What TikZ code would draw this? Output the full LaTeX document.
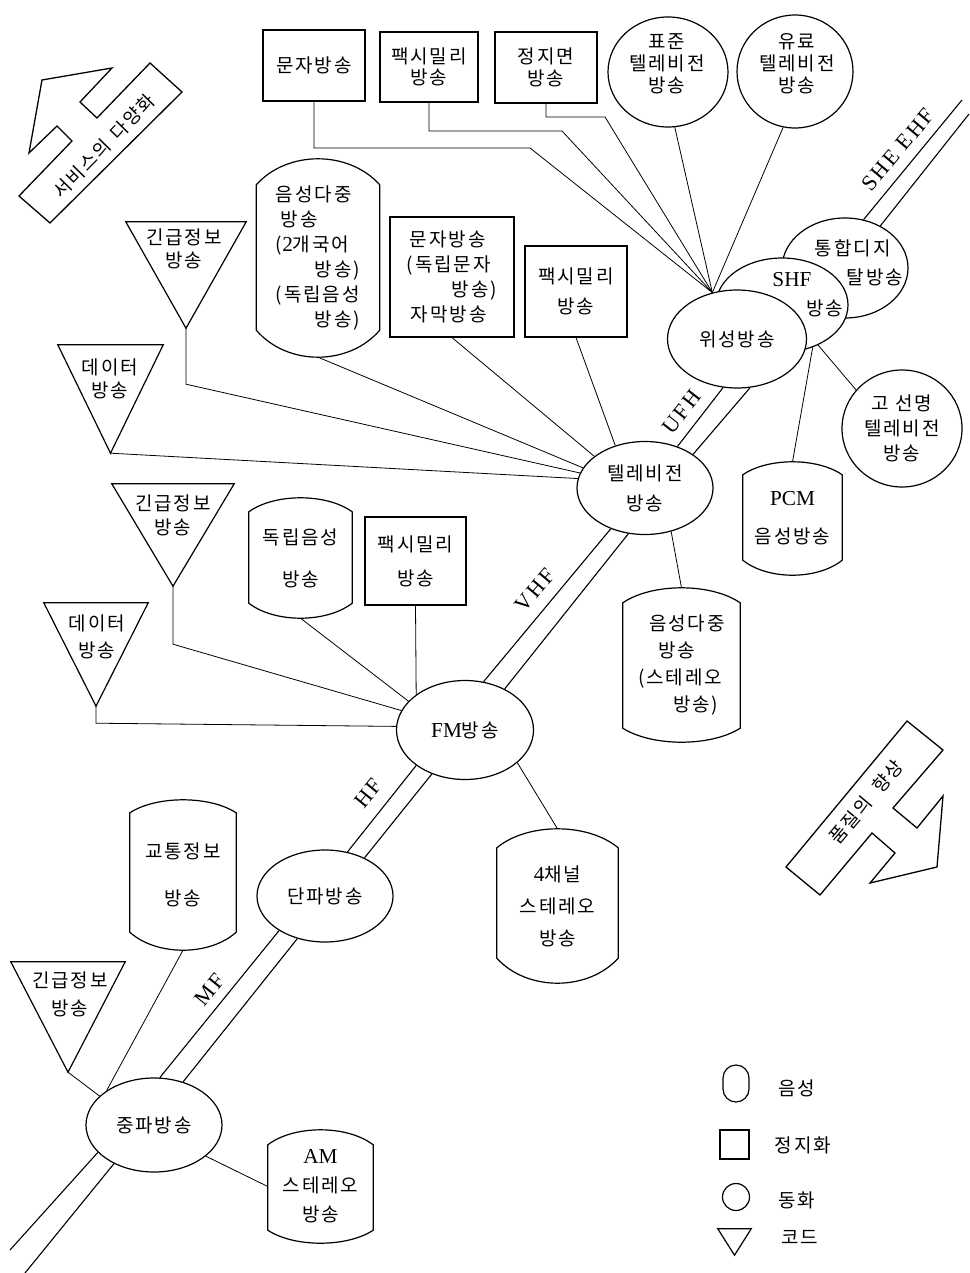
\documentclass[tikz,border=0pt]{standalone}
\usepackage{fontspec}
\setmainfont{Noto Sans CJK KR}[LetterSpace=10]
\newfontfamily\latfont{Liberation Serif}[Scale=1.12]
\newfontfamily\bandfont{Liberation Serif}[LetterSpace=10]
\newcommand\Lat[1]{{\latfont #1}}
\usetikzlibrary{shapes.geometric,calc}

\tikzset{
  shapeline/.style={draw, line width=1.2pt},
  link/.style={line width=0.8pt},
  trunk/.style={line width=1.1pt},
  ell/.style={ellipse, shapeline, fill=white, inner sep=0pt, align=center},
  box/.style={rectangle, shapeline, inner sep=0pt, align=center},
  slot/.style={rectangle, inner sep=0pt, align=center},
  txt/.style={align=center, inner sep=0pt},
  lsk/.style={font=\fontsize{19}{#1}\selectfont},
  band/.style={font=\bandfont\fontsize{22}{22}\selectfont, inner sep=0pt},
  arrowtxt/.style={font=\fontsize{18.5}{20}\selectfont, inner sep=0pt},
}

% barrel outline (voice service) drawn round a named frame node
\newcommand\barrelshape[3]{%
  \draw[line width=1.2pt] ($(#1.north west)+(0,#2)$)
    .. controls ($(#1.north west)!0.25!(#1.north east)+(0,-#2/3)$) and ($(#1.north west)!0.75!(#1.north east)+(0,-#2/3)$) .. ($(#1.north east)+(0,#2)$)
    -- ($(#1.south east)+(0,-#3)$)
    .. controls ($(#1.south west)!0.75!(#1.south east)+(0,#3/3)$) and ($(#1.south west)!0.25!(#1.south east)+(0,#3/3)$) .. ($(#1.south west)+(0,-#3)$)
    -- cycle;}
% inverted triangle (code service) drawn in a named frame node
\newcommand\trishape[1]{%
  \draw[line width=1.2pt] (#1.north west) -- (#1.north east) -- (#1.south) -- cycle;}

\begin{document}
\begin{tikzpicture}[x=1pt,y=-1pt,lsk=22]
\fill[white] (0,0) rectangle (969,1273);
\useasboundingbox (0,0) rectangle (969,1273);

% ---------------- satellite cluster ----------------
\node[ell, minimum width=126, minimum height=100] (dig) at (845,268) {};
\node[ell, minimum width=132, minimum height=94] (shf) at (782,305) {};
\node[ell, minimum width=139, minimum height=98] (sat) at (737,339) {위성방송};
\node[txt, align=left, lsk=29] (digtxt) at (859,262.5) {통합디지\\\hspace*{32pt}탈방송};
\node[txt] (shfa) at (792,280) {\Lat{SHF}};
\node[txt] (shfb) at (825,308) {방송};

% top row of still-picture boxes and moving-picture circles
\node[box, minimum width=102, minimum height=71] (txttop) at (314,65.5) {문자방송};
\node[box, minimum width=98, minimum height=70, lsk=21] (faxtop) at (429,67) {팩시밀리\\방송};
\node[box, minimum width=102, minimum height=71, lsk=22] (still) at (546,67.5) {정지면\\방송};
\node[ell, minimum width=120, minimum height=110] (stdtv) at (668,72) {};
\node[txt, lsk=22] (stdtvtxt) at (667,64) {표준\\텔레비전\\방송};
\node[ell, minimum width=116, minimum height=113] (paytv) at (795,71.5) {};
\node[txt, lsk=22] (paytvtxt) at (797,64) {유료\\텔레비전\\방송};
\node[ell, minimum width=120, minimum height=117, lsk=25] (hdtv) at (902,428.5) {고 선명\\텔레비전\\방송};
\node[slot, minimum width=99, minimum height=113, lsk=38] (pcm) at (792.5,518.5) {\Lat{PCM}\\음성방송};
\barrelshape{pcm}{13}{15}

% ---------------- television cluster ----------------
\node[ell, minimum width=136, minimum height=93, lsk=30] (tv) at (645,488) {텔레비전\\방송};
\node[slot, minimum width=123, minimum height=198, lsk=25, align=left] (mplx) at (318,258)
  {음성다중\\\hspace*{5pt}방송\\(\Lat{2}개국어\\\hspace*{39pt}방송)\\(독립음성\\\hspace*{39pt}방송)};
\barrelshape{mplx}{26}{27}
\node[box, minimum width=124, minimum height=120, lsk=25, align=left] (txtind) at (452,277)
  {\hspace*{3pt}문자방송\\(독립문자\\\hspace*{45pt}방송)\\\hspace*{4pt}자막방송};
\node[box, minimum width=102, minimum height=91, lsk=30] (faxtv) at (576,291.5) {팩시밀리\\방송};
\node[slot, minimum width=120, minimum height=106] (emtv) at (186,275) {};
\trishape{emtv}
\node[txt, lsk=23] (emtvtxt) at (184,248.5) {긴급정보\\방송};
\node[slot, minimum width=105, minimum height=108] (datv) at (110.5,399) {};
\trishape{datv}
\node[txt, lsk=23] (datvtxt) at (110,378.5) {데이터\\방송};
\node[slot, minimum width=117, minimum height=154, lsk=27, align=left] (stv) at (681.5,665)
  {\hspace*{11pt}음성다중\\\hspace*{20pt}방송\\(스테레오\\\hspace*{35pt}방송)};
\barrelshape{stv}{15}{14}

% ---------------- FM cluster ----------------
\node[ell, minimum width=137, minimum height=99] (fm) at (465,730) {\Lat{FM}방송};
\node[slot, minimum width=103, minimum height=120, lsk=42] (indfm) at (300.5,558) {독립음성\\방송};
\barrelshape{indfm}{14}{15}
\node[box, minimum width=101, minimum height=88, lsk=34] (faxfm) at (415.5,561) {팩시밀리\\방송};
\node[slot, minimum width=122, minimum height=102] (emfm) at (173,535) {};
\trishape{emfm}
\node[txt, lsk=24] (emfmtxt) at (173,515) {긴급정보\\방송};
\node[slot, minimum width=104, minimum height=103] (dafm) at (96,654.5) {};
\trishape{dafm}
\node[txt, lsk=27] (dafmtxt) at (97,636.5) {데이터\\방송};
\node[slot, minimum width=121, minimum height=154, lsk=32] (quad) at (557.5,906) {\Lat{4}채널\\스테레오\\방송};
\barrelshape{quad}{19}{25}

% ---------------- short and medium wave ----------------
\node[ell, minimum width=136, minimum height=92] (sw) at (325,896) {단파방송};
\node[ell, minimum width=136, minimum height=94] (mw) at (154,1125) {중파방송};
\node[slot, minimum width=106, minimum height=150, lsk=47] (traffic) at (183,875) {교통정보\\방송};
\barrelshape{traffic}{13}{18}
\node[slot, minimum width=114, minimum height=110] (emmw) at (68,1017) {};
\trishape{emmw}
\node[txt, lsk=28] (emmwtxt) at (70,994) {긴급정보\\방송};
\node[slot, minimum width=105, minimum height=113, lsk=29] (amst) at (320.5,1186.5) {\Lat{AM}\\스테레오\\방송};
\barrelshape{amst}{15}{13}

% ---------------- connectors ----------------
\coordinate (k1) at (530,148);
\coordinate (k2) at (562,131);
\coordinate (k3) at (605,117);
\draw[link] (txttop.south) |- (k1) -- (sat.118);
\draw[link] (faxtop.south) |- (k2) -- (sat.118);
\draw[link] (still.south) |- (k3) -- (sat.118);
\draw[link] (stdtv.-83) -- (sat.118);
\draw[link] (paytv.-102) -- (sat.118);
\draw[link] (shf.-54) -- (pcm.north);
\draw[link] (shf.-48) -- (hdtv.140);

\draw[link] (faxtv.south) -- (tv.125);
\draw[link] (txtind.south) -- (tv.148);
\draw[link] (mplx.south) -- (tv.162);
\draw[link] (emtv.south) -- ++(0,56) -- (tv.167);
\draw[link] (datv.south) -- (tv.172);
\draw[link] (tv.-59) -- (stv.north);

\draw[link] (faxfm.south) -- (fm.144);
\draw[link] (indfm.south) -- (fm.153);
\draw[link] (emfm.south) -- ++(0,58) -- (fm.163);
\draw[link] (dafm.south) -- ++(0,17) -- (fm.177);
\draw[link] (fm.-32) -- (quad.north);

\draw[link] (traffic.south) -- (mw.144);
\draw[link] (emmw.south) -- (mw.152);
\draw[link] (mw.-31) -- (amst.west);

% ---------------- frequency trunk ----------------
\coordinate (e1) at (10,1250);
\coordinate (e2) at (25,1273);
\coordinate (e3) at (962,100);
\coordinate (e4) at (969,114);
\draw[trunk] (e1) -- (mw.206);   \draw[trunk] (e2) -- (mw.224);
\draw[trunk] (mw.83) -- (sw.217); \draw[trunk] (mw.56) -- (sw.237);
\draw[trunk] (sw.63) -- (fm.216); \draw[trunk] (sw.44) -- (fm.233);
\draw[trunk] (fm.69) -- (tv.230); \draw[trunk] (fm.46) -- (tv.250);
\draw[trunk] (tv.52) -- (sat.254); \draw[trunk] (tv.35) -- (sat.285);
\draw[trunk] (dig.69) -- (e3);   \draw[trunk] (dig.50) -- (e4);

\node[band, rotate=51] (lmf) at (210,990) {MF};
\node[band, rotate=51] (lhf) at (368,793) {HF};
\node[band, rotate=50] (lvhf) at (535,590) {VHF};
\node[band, rotate=52] (lufh) at (682,412) {UFH};
\node[band, rotate=50] (lshe) at (898,150) {SHE EHF};

% ---------------- trend arrows ----------------
\draw[line width=1.3pt] (42,80) -- (112,68) -- (80,102) -- (97,118) -- (150,63) -- (182,92)
  -- (50,223) -- (19,196) -- (72,141) -- (57,126) -- (29,153) -- cycle;
\node[arrowtxt, rotate=45.5] (divtxt) at (104,146) {서비스의\hspace{8pt}다양화};
\draw[line width=1.3pt] (907,721) -- (943,750) -- (893,808) -- (917,828) -- (943,796) -- (937,867)
  -- (870,883) -- (895,853) -- (872,833) -- (820,895) -- (786,867) -- cycle;
\node[arrowtxt, rotate=50] (qualtxt) at (866,802) {품질의\hspace{12pt}향상};

% ---------------- legend ----------------
\node[rectangle, shapeline, rounded corners=13pt, minimum width=26, minimum height=37, inner sep=0pt] (lgv) at (736,1083.5) {};
\node[box, minimum width=29, minimum height=29] (lgs) at (734.5,1144.5) {};
\node[circle, shapeline, minimum size=27, inner sep=0pt] (lgm) at (736,1197) {};
\node[slot, minimum width=33, minimum height=26] (lgc) at (734.5,1242) {};
\trishape{lgc}
\node[txt] (lgvt) at (797,1088) {음성};
\node[txt] (lgst) at (803,1145) {정지화};
\node[txt] (lgmt) at (797,1200) {동화};
\node[txt] (lgct) at (800,1237) {코드};
\end{tikzpicture}
\end{document}
